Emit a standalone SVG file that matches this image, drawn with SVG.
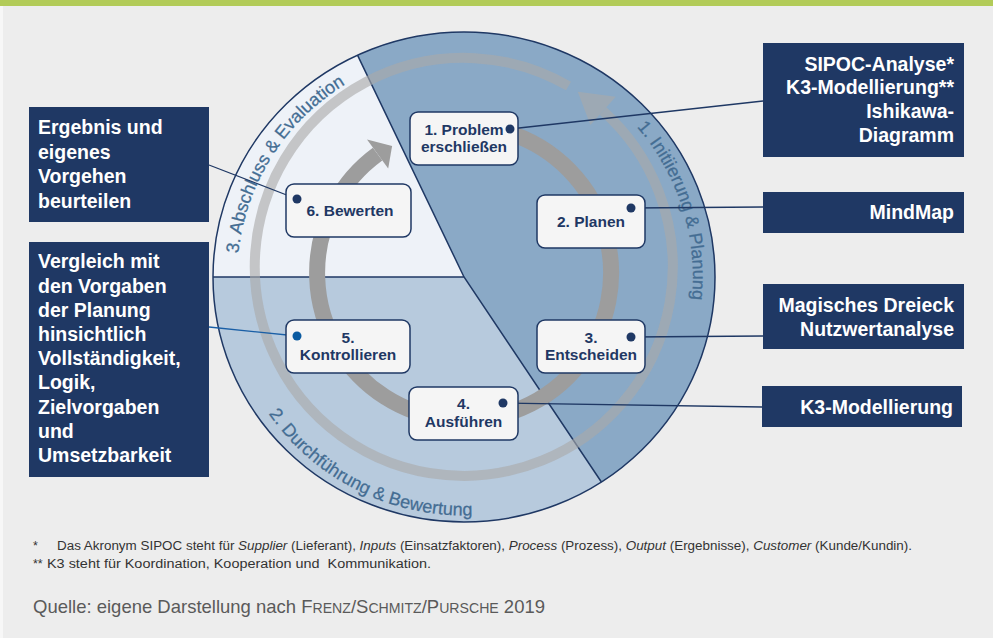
<svg xmlns="http://www.w3.org/2000/svg" width="993" height="638" viewBox="0 0 993 638">
<defs>
<style>
.box{fill:#1f3864}
.boxt{font-family:"Liberation Sans",Arial,sans-serif;font-weight:bold;font-size:19.5px;fill:#ffffff}
.nrect{fill:#f5f5f5;stroke:#1f3864;stroke-width:1.5}
.nodet{font-family:"Liberation Sans",Arial,sans-serif;font-weight:bold;font-size:15.5px;fill:#1f3864;text-anchor:middle}
.arct{font-family:"Liberation Sans",Arial,sans-serif;font-size:18px;fill:#446d93;stroke:#446d93;stroke-width:0.25}
.conn{stroke:#1f3864;stroke-width:1.3;fill:none}
.dot{fill:#1f3864}
.sep{stroke:#1f3864;stroke-width:1.5;fill:none}
.foot{font-family:"Liberation Sans Narrow","Liberation Sans",Arial,sans-serif;font-size:12.5px;fill:#333333}
</style>
<path id="p3" d="M238.4,253.5 A226,226 0 0 1 386.7,64.6"/>
<path id="p1" d="M636.8,127 A229,229 0 0 1 679.2,355.3"/>
<path id="p2" d="M268.6,413.8 A238.5,238.5 0 0 0 545.6,501.1"/>
</defs>
<rect x="0" y="0" width="993" height="638" fill="#ededed"/>
<rect x="0" y="0" width="3" height="638" fill="#f7f7f7"/>
<rect x="0" y="0" width="993" height="6" fill="#b2cb58"/>

<g id="circle">
<path d="M464,277 L357.5,55.1 A251,245 0 0 1 601.4,482 Z" fill="#8aa9c6"/>
<path d="M464,277 L601.4,482 A251,245 0 0 1 213,277 Z" fill="#b7cadd"/>
<path d="M464,277 L213,277 A251,245 0 0 1 357.5,55.1 Z" fill="#eef2f8"/>
<path class="sep" d="M357.5,55.1 L464,277 L601.4,482 M213,277 L464,277"/>
<ellipse class="sep" cx="464" cy="277" rx="251" ry="245"/>
</g>

<g id="outer-ring" opacity="0.62">
<path d="M568.5,86 A209,209 0 1 0 603,111" fill="none" stroke="#aaaaaa" stroke-width="10"/>
<polygon points="577.8,91.7 615.7,96.8 590.4,125.1" fill="#aaaaaa"/>
</g>

<g id="inner-ring">
<path d="M438.5,128.2 A147,147 0 1 1 377.6,154.1" fill="none" stroke="#9d9d9d" stroke-width="16"/>
<polygon points="367,139.5 392.1,145.9 388.2,168.6" fill="#9d9d9d"/>
</g>

<g id="phase-labels">
<text class="arct"><textPath href="#p1">1. Initiierung &amp; Planung</textPath></text>
<text class="arct"><textPath href="#p2">2. Durchführung &amp; Bewertung</textPath></text>
<text class="arct"><textPath href="#p3">3. Abschluss &amp; Evaluation</textPath></text>
</g>

<g id="connectors">
<line class="conn" x1="510" y1="129" x2="763" y2="101"/>
<line class="conn" x1="631" y1="208" x2="763" y2="207"/>
<line class="conn" x1="631" y1="337" x2="763" y2="336"/>
<line class="conn" x1="503" y1="403" x2="762" y2="407"/>
<line class="conn" x1="297" y1="199" x2="209" y2="165"/>
<line class="conn" x1="297" y1="336" x2="209" y2="327" style="stroke:#1a5fa6"/>
</g>

<g id="n1">
<rect class="nrect" x="410" y="112" width="108" height="53" rx="8"/>
<text class="nodet" x="464" y="135">1. Problem</text>
<text class="nodet" x="464" y="152">erschließen</text>
<circle class="dot" cx="510" cy="129" r="4.5"/>
</g>
<g id="n2">
<rect class="nrect" x="537" y="195" width="108" height="53" rx="8"/>
<text class="nodet" x="591" y="227">2. Planen</text>
<circle class="dot" cx="631" cy="208" r="4.5"/>
</g>
<g id="n3">
<rect class="nrect" x="537" y="320" width="108" height="53" rx="8"/>
<text class="nodet" x="591" y="343">3.</text>
<text class="nodet" x="591" y="359.5">Entscheiden</text>
<circle class="dot" cx="631" cy="337" r="4.5"/>
</g>
<g id="n4">
<rect class="nrect" x="409" y="387" width="109" height="53" rx="8"/>
<text class="nodet" x="463.5" y="409">4.</text>
<text class="nodet" x="463.5" y="426.5">Ausführen</text>
<circle class="dot" cx="503" cy="403" r="4.5"/>
</g>
<g id="n5">
<rect class="nrect" x="286" y="320" width="124" height="53" rx="8"/>
<text class="nodet" x="348" y="343">5.</text>
<text class="nodet" x="348" y="359.5">Kontrollieren</text>
<circle cx="297" cy="336" r="4.5" fill="#0b5aa0"/>
</g>
<g id="n6">
<rect class="nrect" x="286" y="184" width="125" height="53" rx="8"/>
<text class="nodet" x="350" y="215.5">6. Bewerten</text>
<circle class="dot" cx="297" cy="199" r="4.5"/>
</g>

<g id="b-sipoc">
<rect class="box" x="763" y="43" width="201" height="114"/>
<text class="boxt" text-anchor="end"><tspan x="954" y="70.7">SIPOC-Analyse*</tspan><tspan x="954" y="94.3">K3-Modellierung**</tspan><tspan x="954" y="118.3">Ishikawa-</tspan><tspan x="954" y="141.7">Diagramm</tspan></text>
</g>
<g id="b-mindmap">
<rect class="box" x="763" y="192" width="201" height="41"/>
<text class="boxt" text-anchor="end" x="954" y="218.5">MindMap</text>
</g>
<g id="b-magisch">
<rect class="box" x="763" y="284" width="201" height="65"/>
<text class="boxt" text-anchor="end"><tspan x="954" y="311.7">Magisches Dreieck</tspan><tspan x="954" y="336">Nutzwertanalyse</tspan></text>
</g>
<g id="b-k3">
<rect class="box" x="762" y="386" width="200" height="41"/>
<text class="boxt" text-anchor="end" x="953" y="414">K3-Modellierung</text>
</g>
<g id="b-ergebnis">
<rect class="box" x="29" y="107" width="180" height="115"/>
<text class="boxt"><tspan x="38" y="134.3">Ergebnis und</tspan><tspan x="38" y="158.8">eigenes</tspan><tspan x="38" y="183.3">Vorgehen</tspan><tspan x="38" y="207.8">beurteilen</tspan></text>
</g>
<g id="b-vergleich">
<rect class="box" x="29" y="242" width="180" height="235"/>
<text class="boxt"><tspan x="38" y="268.3">Vergleich mit</tspan><tspan x="38" y="292.5">den Vorgaben</tspan><tspan x="38" y="316.7">der Planung</tspan><tspan x="38" y="340.9">hinsichtlich</tspan><tspan x="38" y="365.1">Vollständigkeit,</tspan><tspan x="38" y="389.3">Logik,</tspan><tspan x="38" y="413.5">Zielvorgaben</tspan><tspan x="38" y="437.7">und</tspan><tspan x="38" y="461.9">Umsetzbarkeit</tspan></text>
</g>

<g id="footnotes">
<text class="foot" x="33" y="550">*</text>
<text class="foot" x="57" y="550" textLength="855" lengthAdjust="spacingAndGlyphs">Das Akronym SIPOC steht für <tspan font-style="italic">Supplier</tspan> (Lieferant), <tspan font-style="italic">Inputs</tspan> (Einsatzfaktoren), <tspan font-style="italic">Process</tspan> (Prozess), <tspan font-style="italic">Output</tspan> (Ergebnisse), <tspan font-style="italic">Customer</tspan> (Kunde/Kundin).</text>
<text class="foot" x="33" y="568">**</text>
<text class="foot" x="47" y="568" textLength="384" lengthAdjust="spacingAndGlyphs" style="white-space:pre">K3 steht für Koordination, Kooperation und  Kommunikation.</text>
<text x="33" y="613" textLength="512" lengthAdjust="spacingAndGlyphs" font-family="'Liberation Sans Narrow','Liberation Sans',Arial,sans-serif" font-size="19" fill="#5a5a5a">Quelle: eigene Darstellung nach F<tspan font-size="14.5">RENZ</tspan>/S<tspan font-size="14.5">CHMITZ</tspan>/P<tspan font-size="14.5">URSCHE</tspan> 2019</text>
</g>
</svg>
